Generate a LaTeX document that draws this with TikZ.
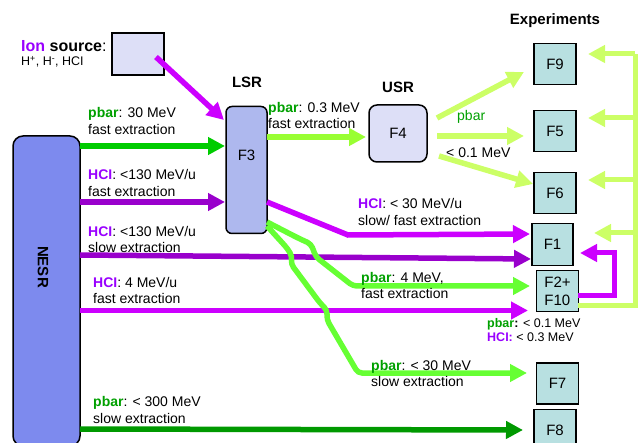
\documentclass[tikz,border=0pt]{standalone}
\usepackage{fontspec}
\setmainfont{Liberation Sans}
\usetikzlibrary{arrows.meta}
\definecolor{nesrfill}{RGB}{125,138,238}
\definecolor{lsrfill}{RGB}{174,184,238}
\definecolor{usrfill}{RGB}{221,223,247}
\definecolor{expfill}{RGB}{184,224,225}
\definecolor{cmag}{HTML}{CC00FF}
\definecolor{cpur}{HTML}{9900CC}
\definecolor{cgreen}{HTML}{00CC00}
\definecolor{cdgreen}{HTML}{009900}
\definecolor{clgreen}{HTML}{66FF33}
\definecolor{cllgreen}{HTML}{99FF33}
\definecolor{cygreen}{HTML}{CCFF66}
\definecolor{tgreen}{HTML}{00A000}
\definecolor{thci}{HTML}{9900FF}
\newcommand{\pbt}{\textbf{\color{tgreen}pbar}}
\newcommand{\hct}{\textbf{\color{thci}HCI}}
\begin{document}
\begin{tikzpicture}[x=1pt,y=-1pt,
  ln/.style={line width=5.5pt,-{Triangle[length=17pt,width=17pt]}},
  fb/.style={line width=5pt,cygreen},
  fbarrow/.style={line width=5pt,cygreen,-{Triangle[length=17pt,width=17pt]}},
  box/.style={draw=black,line width=1.5pt,fill=expfill,minimum width=42pt,minimum height=41pt,inner sep=0pt,font=\fontsize{15}{18}\selectfont},
  ring/.style={draw=black,line width=1.5pt,inner sep=0pt},
  lab/.style={anchor=west,align=left,inner sep=0pt,font=\fontsize{14}{16.5}\selectfont},
  head/.style={inner sep=0pt,font=\fontsize{15}{18}\selectfont\bfseries}
]
\useasboundingbox (0,0) rectangle (642,443);

% boxes
\node[ring,fill=nesrfill,rounded corners=10pt,minimum width=67pt,minimum height=310pt] (nesr) at (46.5,291) {};
\node[head,rotate=-90] (nesrlab) at (43,267) {NESR};
\node[ring,fill=usrfill,minimum width=52pt,minimum height=42pt] (ion) at (138,54) {};
\node[ring,fill=lsrfill,rounded corners=6pt,minimum width=41pt,minimum height=127pt] (lsr) at (246.5,170) {};
\node[inner sep=0pt,font=\fontsize{15}{18}\selectfont] (lsrlab) at (246.5,155) {F3};
\node[ring,fill=usrfill,rounded corners=8pt,minimum width=58pt,minimum height=57pt,font=\fontsize{15}{18}\selectfont] (usr) at (398,133.5) {F4};

\node[box] (f9) at (555,64) {F9};
\node[box] (f5) at (555,131) {F5};
\node[box] (f6) at (555,193) {F6};
\node[box,minimum width=41pt,minimum height=42pt] (f1) at (552.5,244.5) {F1};
\node[box,align=left] (f2) at (557.5,291) {F2+\\F10};
\node[box] (f7) at (557.5,383.5) {F7};
\node[box] (f8) at (555,430) {F8};

% headers
\node[head] (lsrh) at (247,82) {LSR};
\node[head] (usrh) at (398,87) {USR};
\node[head] (exph) at (555,21) {Experiments};

% coordinates
\coordinate (ionout) at (156,57);
\coordinate (lsrin0) at (224,120);
\coordinate (nesrA) at (80,146);  \coordinate (lsrA) at (225,146);
\coordinate (nesrB) at (80,202);  \coordinate (lsrB) at (225,202);
\coordinate (nesrC) at (80,255);  \coordinate (f1B) at (531,259);
\coordinate (nesrD) at (80,310.5);\coordinate (f2B) at (528,310.5);
\coordinate (nesrE) at (80,429);  \coordinate (f8in) at (523,430);
\coordinate (lsrU) at (267,137);  \coordinate (usrin) at (366,137);
\coordinate (usr1) at (437,118);  \coordinate (f9in) at (524,72);
\coordinate (usr2) at (437,136);  \coordinate (f5in) at (524,136);
\coordinate (usr3) at (439,156);  \coordinate (f6in) at (533,184);
\coordinate (lsrM) at (267,202);  \coordinate (f1A) at (530,234);
\coordinate (lsrG1) at (267,222); \coordinate (f2A) at (530,286);
\coordinate (lsrG2) at (267,226); \coordinate (f7in) at (527,373);

% NESR extractions
\draw[ln,cgreen] (nesrA) -- (lsrA);
\draw[ln,cpur] (nesrB) -- (lsrB);
\draw[ln,cpur] (nesrC) -- (f1B);
\draw[ln,cmag] (nesrD) -- (f2B);
\draw[ln,cdgreen] (nesrE) -- (f8in);
\draw[ln,cmag] (ionout) -- (lsrin0);

% LSR outputs
\draw[ln,cllgreen] (lsrU) -- (usrin);
\draw[ln,cmag] (lsrM) -- (348,235) -- (f1A);
\draw[ln,clgreen,rounded corners=4pt] (lsrG1) -- (298,238) -- (311,244) -- (316,257) -- (353,286) -- (f2A);
\draw[ln,clgreen,rounded corners=4pt] (lsrG2) -- (287,248) -- (292,256) -- (291,264) -- (320,303) -- (327,310) -- (327,320) -- (358,373) -- (f7in);

% USR outputs
\draw[ln,cygreen] (usr1) -- (f9in);
\draw[ln,cygreen] (usr2) -- (f5in);
\draw[ln,cygreen] (usr3) -- (f6in);

% feedback
\coordinate (f2out) at (578,306);
\coordinate (fbtop) at (635,54);
\draw[fb] (f2out) -- (635,306) -- (fbtop);
\draw[fbarrow] (fbtop) -- (588,54);
\draw[fbarrow] (635,118) -- (588,118);
\draw[fbarrow] (635,180) -- (588,180);
\draw[fbarrow] (635,233) -- (594,233);
\coordinate (f2loop) at (578,296);
\draw[ln,cmag,line width=5pt] (f2loop) -- (614,296) -- (614,253) -- (580,253);

% labels
\node[anchor=west,inner sep=0pt,font=\fontsize{16}{18}\selectfont\bfseries] (ionlab) at (21,46) {{\color{thci}Ion} source\mdseries:};
\node[anchor=west,inner sep=0pt,font=\fontsize{12.5}{15}\selectfont] (ionlab2) at (21,62) {H\textsuperscript{+}, H\textsuperscript{-}, HCI};
\node[lab] (l1) at (88,121) {\pbt: 30 MeV\\fast extraction};
\node[lab] (l2) at (88,183) {\hct: <130 MeV/u\\fast extraction};
\node[lab] (l3) at (88,239.5) {\hct: <130 MeV/u\\slow extraction};
\node[lab] (l4) at (93,290.5) {\hct: 4 MeV/u\\fast extraction};
\node[lab] (l5) at (93,410) {\pbt: < 300 MeV\\slow extraction};
\node[lab] (l6) at (268,115.5) {\pbt: 0.3 MeV\\fast extraction};
\node[lab] (l7) at (358,212) {\hct: < 30 MeV/u\\slow/ fast extraction};
\node[lab] (l8) at (361,285.5) {\pbt: 4 MeV,\\fast extraction};
\node[lab] (l9) at (371,373.5) {\pbt: < 30 MeV\\slow extraction};
\node[lab,font=\fontsize{12.5}{14.7}\selectfont] (l10) at (487,330) {\textbf{{\color{tgreen}pbar}:} < 0.1 MeV\\\textbf{\color{thci}HCI:} < 0.3 MeV};
\node[lab,text=tgreen] (l11) at (457,117) {pbar};
\node[lab] (l12) at (446,153) {< 0.1 MeV};
\end{tikzpicture}
\end{document}
